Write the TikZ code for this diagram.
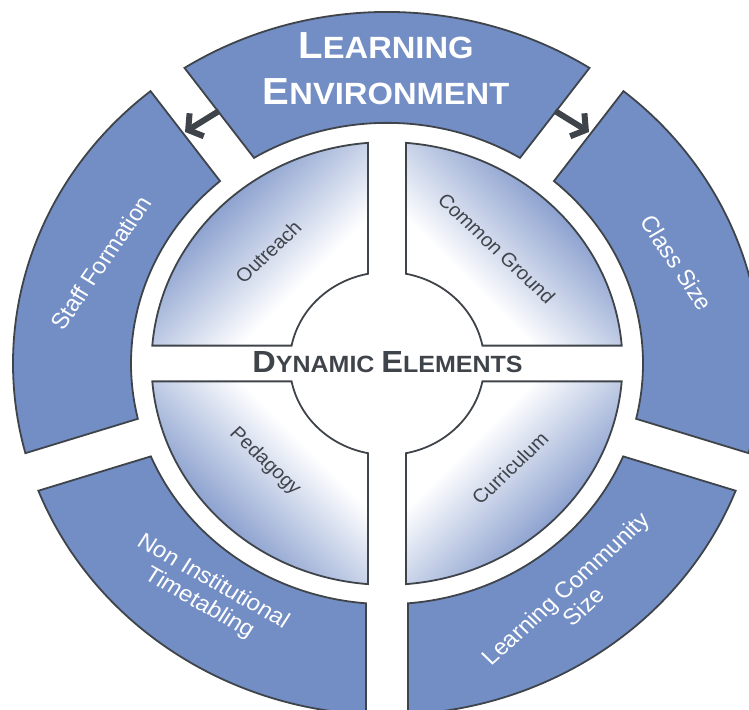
\documentclass[tikz,border=0pt]{standalone}
\usepackage{fontspec}
\setmainfont{Liberation Sans}
\usetikzlibrary{arrows.meta}
\definecolor{segblue}{RGB}{115,142,197}
\definecolor{quadblue}{RGB}{120,145,199}
\definecolor{edgegray}{RGB}{63,68,74}
\pgfdeclareverticalshading{quadsh}{100bp}{color(0bp)=(white); color(36bp)=(white); color(68bp)=(quadblue); color(100bp)=(quadblue)}
\begin{document}
\begin{tikzpicture}[x=1pt,y=1pt,
  seg/.style={fill=segblue, draw=edgegray, line width=1.8pt, line join=miter},
  quad/.style={draw=edgegray, line width=1.8pt, shading=quadsh},
  seglabel/.style={text=white, font=\fontsize{24}{26.5}\selectfont, align=center, inner sep=0pt},
  quadlabel/.style={text=edgegray, font=\fontsize{20.3}{22}\selectfont, inner sep=0pt},
  titletext/.style={text=white, font=\bfseries, inner sep=0pt, anchor=base},
  dyntext/.style={text=edgegray, font=\bfseries, inner sep=0pt, anchor=base},
  conn/.style={draw=edgegray, line width=6pt, -{Straight Barb[length=10pt,width=27pt]}}
]
\useasboundingbox (0,0) rectangle (749,709);
\clip (0,0) rectangle (749,709);
\begin{scope}[shift={(387,345.5)}, yscale=0.94, transform shape]
  \def\Ro{374}\def\Ri{256}\def\hg{21}
  \foreach \a/\b in {54/126, 126/198, 198/270, 270/342, -18/54} {
    \pgfmathsetmacro\ao{asin(\hg/\Ro)}
    \pgfmathsetmacro\ai{asin(\hg/\Ri)}
    \draw[seg] ({\a+\ao}:\Ro) arc[start angle={\a+\ao}, end angle={\b-\ao}, radius=\Ro pt]
      -- ({\b-\ai}:\Ri) arc[start angle={\b-\ai}, end angle={\a+\ai}, radius=\Ri pt] -- cycle;
  }
  \def\Qo{235.5}\def\Qi{97.3}\def\qg{19}
  \foreach \s/\sa in {0/-45, 90/45, 180/135, 270/225} {
    \pgfmathsetmacro\bo{asin(\qg/\Qo)}
    \pgfmathsetmacro\bi{asin(\qg/\Qi)}
    \path[quad, shading angle=\sa] ({\s+\bo}:\Qo) arc[start angle={\s+\bo}, end angle={\s+90-\bo}, radius=\Qo pt]
      -- ({\s+90-\bi}:\Qi) arc[start angle={\s+90-\bi}, end angle={\s+\bi}, radius=\Qi pt] -- cycle;
  }
  \node[titletext] (le1) at (-1,324.7) {{\fontsize{40.1}{40}\selectfont L}{\fontsize{32.7}{33}\selectfont EARNING}};
  \node[titletext] (le2) at (-1,275) {{\fontsize{40.1}{40}\selectfont E}{\fontsize{32.7}{33}\selectfont NVIRONMENT}};
  \node[dyntext] (de) at (0.5,-9.8) {{\fontsize{32.5}{33}\selectfont D}{\fontsize{25}{26}\selectfont YNAMIC }{\fontsize{32.5}{33}\selectfont E}{\fontsize{25}{26}\selectfont LEMENTS}};
  \node[seglabel, rotate=57] (sf) at (-286,107) {Staff Formation};
  \node[seglabel, rotate=-58] (cs) at (290,107) {Class Size};
  \node[seglabel, rotate=-31] (nit) at (-181,-244) {Non Institutional\\Timetabling};
  \node[seglabel, rotate=44] (lcs) at (187.5,-249) {Learning Community\\Size};
  \node[quadlabel, rotate=45] (or) at (-118.7,118.9) {Outreach};
  \node[quadlabel, rotate=-45] (cg) at (109.7,122.6) {Common Ground};
  \node[quadlabel, rotate=-45] (pe) at (-122,-104.5) {Pedagogy};
  \node[quadlabel, rotate=45] (cu) at (123,-111.5) {Curriculum};
\end{scope}
\coordinate (la) at (219,598);
\coordinate (lb) at (185,577);
\coordinate (ra) at (555,598);
\coordinate (rb) at (589,577);
\draw[conn] (la) -- (lb);
\draw[conn] (ra) -- (rb);
\end{tikzpicture}
\end{document}
